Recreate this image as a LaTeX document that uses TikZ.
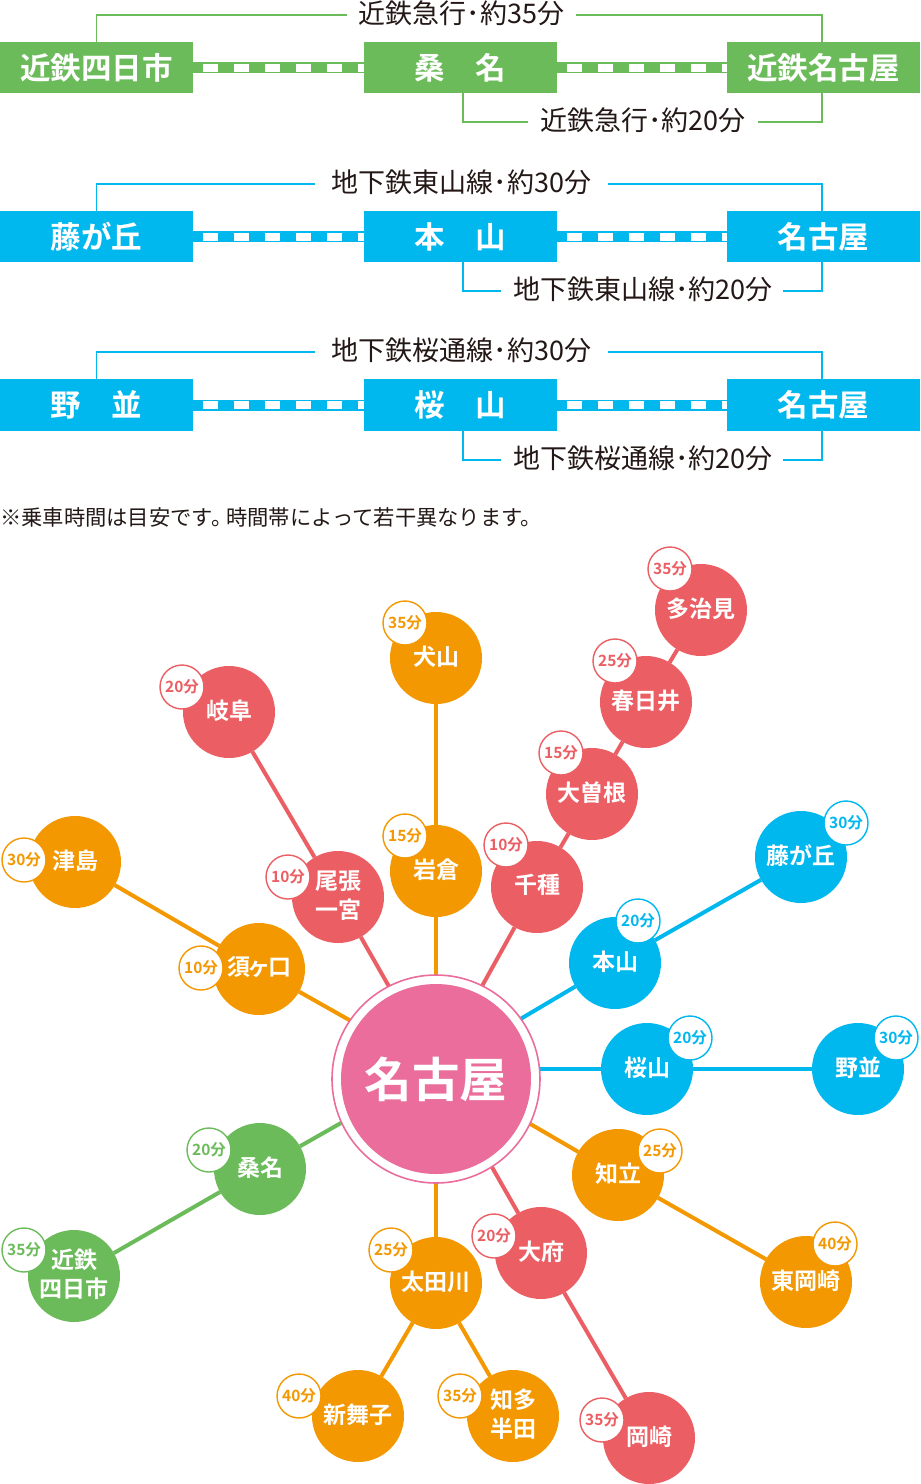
\documentclass[tikz,border=0pt]{standalone}
\usepackage{fontspec}
\setmainfont{Noto Sans CJK JP}
\newfontfamily\jpb{Noto Sans CJK JP Bold}
\usetikzlibrary{calc}
\definecolor{cOr}{HTML}{F39800}
\definecolor{cRe}{HTML}{EB5E63}
\definecolor{cBl}{HTML}{00B7EE}
\definecolor{cGr}{HTML}{6CBB5A}
\definecolor{cPi}{HTML}{EA6D9C}
\definecolor{cTx}{HTML}{231815}
\tikzset{
  stopbox/.style={fill=#1,text=white,minimum width=193pt,minimum height=51.5pt,inner sep=0pt,outer sep=0pt,font=\jpb\fontsize{30.5}{31}\selectfont},
  routelabel/.style={text=cTx,inner sep=0pt,outer sep=0pt,font=\fontsize{27}{27}\selectfont},
  bracket/.style={draw=#1,line width=1.3pt},
  track/.style={draw=#1,line width=11pt},
  trackdash/.style={draw=white,line width=8pt,dash pattern=on 15pt off 16pt,dash phase=21pt},
  stn/.style={circle,fill=#1,text=white,minimum size=92pt,inner sep=0pt,outer sep=0pt,align=center,font=\jpb\fontsize{23}{29}\selectfont},
  badge/.style={circle,fill=white,draw=#1,line width=1.4pt,text=#1,minimum size=44pt,inner sep=0pt,outer sep=0pt,font=\jpb\fontsize{15.5}{16}\selectfont},
  link/.style={draw=#1,line width=4pt},
}
\newcommand{\up}[1]{#1\rule[-5.5pt]{0pt}{0pt}}
\newcommand{\stn}[7]{\node[stn=#4] (#1) at (#2) {\up{#3}};\expandafter\gdef\csname bd#1\endcsname{\node[badge=#4] (#1b) at (#5,#6) {#7};}}
\newcommand{\bd}[1]{\csname bd#1\endcsname}
\begin{document}
\begin{tikzpicture}[x=1pt,y=-1pt]
\useasboundingbox (0,0) rectangle (921,1484);
% --- top rows
\foreach \r/\yc/\col/\ta/\tb/\tc/\ltop/\lbot/\ytop/\ybot/\gt/\gb in {
  1/67.5/cGr/近鉄四日市/桑　名/近鉄名古屋/近鉄急行･約35分/近鉄急行･約20分/15/122/11.5/12,
  2/236.5/cBl/藤が丘/本　山/名古屋/地下鉄東山線･約30分/地下鉄東山線･約20分/184/291/16.5/10,
  3/405/cBl/野　並/桜　山/名古屋/地下鉄桜通線･約30分/地下鉄桜通線･約20分/352/460/16.5/10}{
  \node[stopbox=\col] (a\r) at (96.5,\yc) {\ta};
  \node[stopbox=\col] (b\r) at (460,\yc) {\tb};
  \node[stopbox=\col] (c\r) at (823.5,\yc) {\tc};
  \draw[track=\col] (a\r) -- (b\r);
  \draw[trackdash] (a\r) -- (b\r);
  \draw[track=\col] (b\r) -- (c\r);
  \draw[trackdash] (b\r) -- (c\r);
  \node[routelabel] (t\r) at (461.5,\ytop) {\up{\ltop}};
  \node[routelabel] (u\r) at (643,\ybot) {\up{\lbot}};
  \coordinate (tl\r) at ($(t\r.west)+(-\gt,0)$);
  \coordinate (tr\r) at ($(t\r.east)+(\gt,0)$);
  \coordinate (ul\r) at ($(u\r.west)+(-12,0)$);
  \coordinate (ur\r) at ($(u\r.east)+(\gb,0)$);
  \coordinate (bs\r) at ($(b\r.south)+(3,0)$);
  \coordinate (cn\r) at ($(c\r.north)+(-1.5,0)$);
  \coordinate (cs\r) at ($(c\r.south)+(-1.5,0)$);
  \draw[bracket=\col] (a\r.north) |- (tl\r);
  \draw[bracket=\col] (cn\r) |- (tr\r);
  \draw[bracket=\col] (bs\r) |- (ul\r);
  \draw[bracket=\col] (cs\r) |- (ur\r);
}
\node[anchor=west,text=cTx,inner sep=0pt,font=\fontsize{21.3}{21}\selectfont] (note) at (0,517) {※乗車時間は目安です。\kern-6pt 時間帯によって若干異なります。};
% --- stations
\coordinate (hubc) at (436,1069);
\stn{inu}{436,658}{犬山}{cOr}{405}{623}{35分}
\stn{iwa}{436,871}{岩倉}{cOr}{405}{836}{15分}
\stn{gif}{229,712}{岐阜}{cRe}{182}{687}{20分}
\stn{ich}{338,897}{尾張\\一宮}{cRe}{288}{877}{10分}
\stn{tsu}{75,862}{津島}{cOr}{24}{860}{30分}
\stn{suk}{259,969}{須\kern-2.5ptヶ\kern-2.5pt 口}{cOr}{201}{968}{10分}
\stn{taj}{701,610}{多治見}{cRe}{670}{569}{35分}
\stn{kas}{646,702}{春日井}{cRe}{615}{661}{25分}
\stn{ozo}{592,794}{大曽根}{cRe}{561}{753}{15分}
\stn{chi}{537,887}{千種}{cRe}{506}{845}{10分}
\stn{fuj}{801,857}{藤が丘}{cBl}{846}{823}{30分}
\stn{mot}{615,963}{本山}{cBl}{638}{921}{20分}
\stn{sak}{647,1069}{桜山}{cBl}{690}{1038}{20分}
\stn{nom}{858,1069}{野並}{cBl}{896}{1038}{30分}
\stn{chr}{618,1175}{知立}{cOr}{660}{1151}{25分}
\stn{hig}{806,1282}{東岡崎}{cOr}{835}{1244}{40分}
\stn{obu}{541,1253}{大府}{cRe}{494}{1236}{20分}
\stn{oka}{649,1438}{岡崎}{cRe}{602}{1420}{35分}
\stn{ota}{436,1283}{太田川}{cOr}{391}{1250}{25分}
\stn{shi}{358,1416}{新舞子}{cOr}{299}{1396}{40分}
\stn{han}{513,1416}{知多\\半田}{cOr}{460}{1396}{35分}
\stn{kuw}{260,1169}{桑名}{cGr}{209}{1150}{20分}
\stn{yok}{74,1276}{近鉄\\四日市}{cGr}{24}{1250}{35分}
% --- connectors
\draw[link=cOr] (inu) -- (iwa);
\draw[link=cOr] (iwa) -- (hubc);
\draw[link=cRe] (gif) -- (ich);
\draw[link=cRe] (ich) -- (hubc);
\draw[link=cOr] (tsu) -- (suk);
\draw[link=cOr] (suk) -- (hubc);
\draw[link=cRe] (taj) -- (kas);
\draw[link=cRe] (kas) -- (ozo);
\draw[link=cRe] (ozo) -- (chi);
\draw[link=cRe] (chi) -- (hubc);
\draw[link=cBl] (fuj) -- (mot);
\draw[link=cBl] (mot) -- (hubc);
\draw[link=cBl] (hubc) -- (sak);
\draw[link=cBl] (sak) -- (nom);
\draw[link=cOr] (hubc) -- (chr);
\draw[link=cOr] (chr) -- (hig);
\draw[link=cRe] (hubc) -- (obu);
\draw[link=cRe] (obu) -- (oka);
\draw[link=cOr] (hubc) -- (ota);
\draw[link=cOr] (ota) -- (shi);
\draw[link=cOr] (ota) -- (han);
\draw[link=cGr] (hubc) -- (kuw);
\draw[link=cGr] (kuw) -- (yok);
% --- hub
\node[circle,fill=white,draw=cPi,line width=1.6pt,minimum size=208pt,inner sep=0pt,outer sep=0pt] (hub) at (436,1079) {};
\node[circle,fill=cPi,text=white,minimum size=190pt,inner sep=0pt,outer sep=0pt,font=\jpb\fontsize{47.5}{48}\selectfont] (hubin) at (436,1079) {\raisebox{3pt}{名古屋}};
% --- badges
\foreach \n in {inu,iwa,gif,ich,tsu,suk,taj,kas,ozo,chi,fuj,mot,sak,nom,chr,hig,obu,oka,ota,shi,han,kuw,yok}{\bd{\n}}
\end{tikzpicture}
\end{document}
